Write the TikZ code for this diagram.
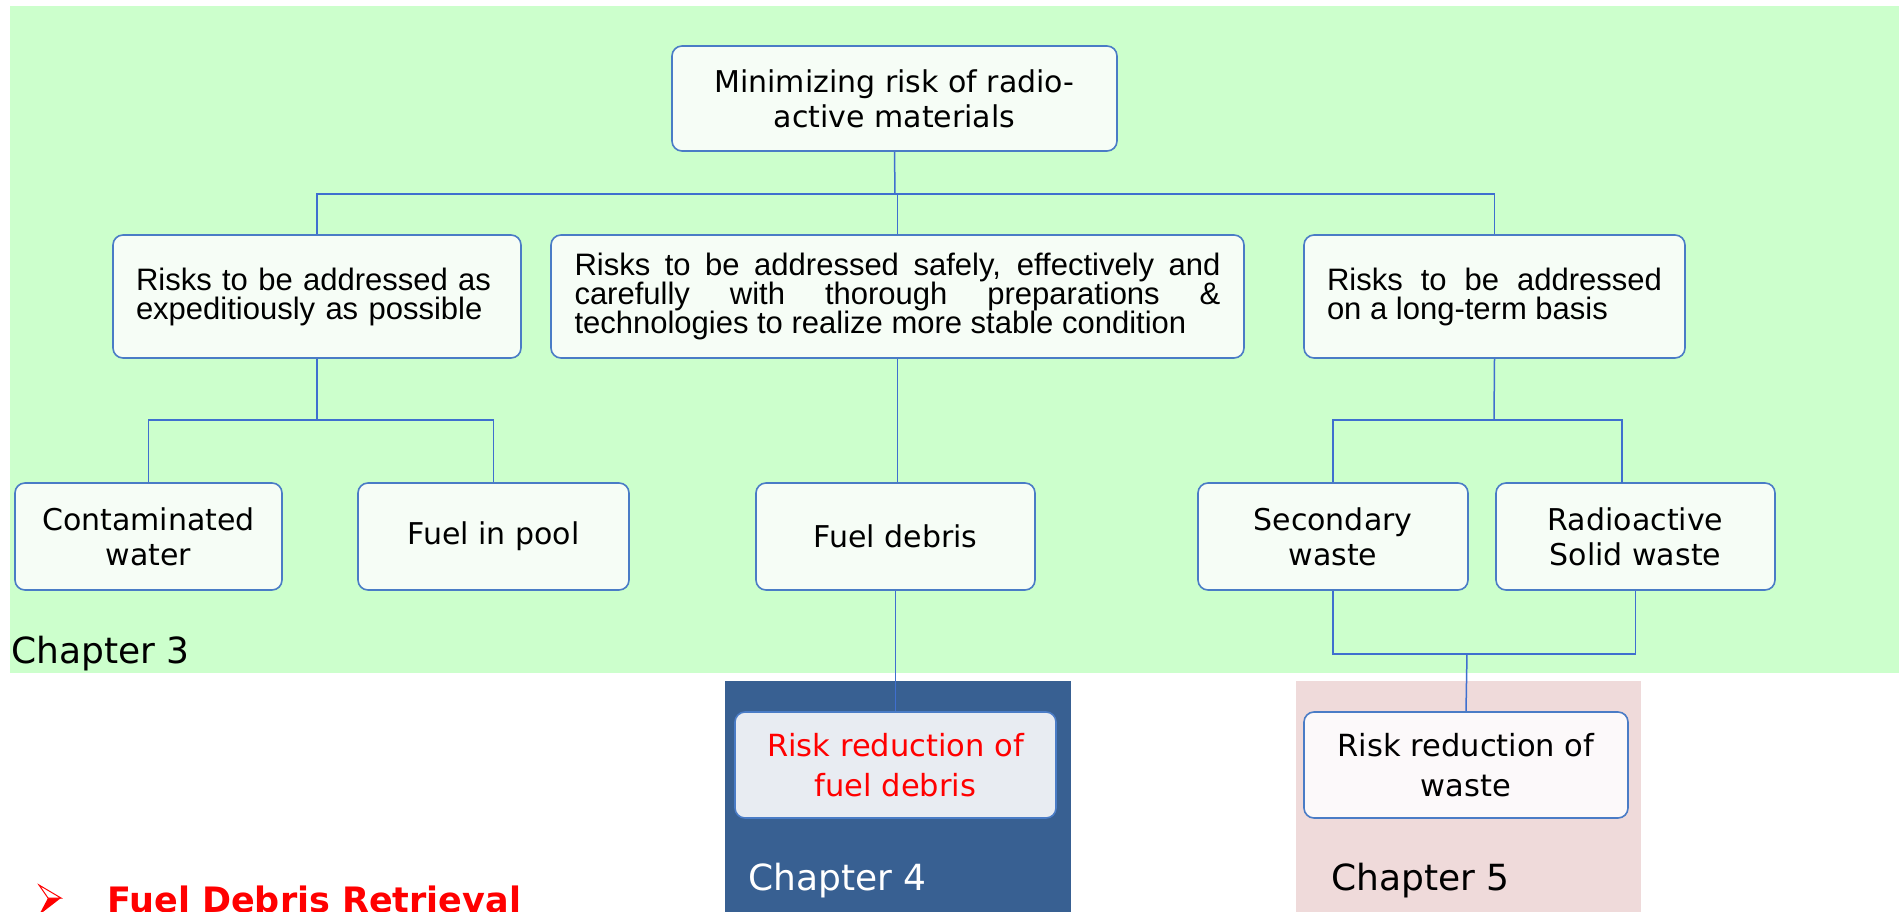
\documentclass[tikz,border=0pt]{standalone}
\usepackage{fontspec}
\setmainfont{DejaVu Sans}
\newfontfamily\arialf{Liberation Sans}
\usetikzlibrary{calc}
\definecolor{bggreen}{RGB}{204,255,204}
\definecolor{boxfill}{RGB}{246,253,246}
\definecolor{boxline}{RGB}{74,124,198}
\definecolor{conn}{RGB}{63,111,207}
\definecolor{chfour}{RGB}{56,96,146}
\definecolor{chfive}{RGB}{239,218,218}
\definecolor{rfdfill}{RGB}{232,236,242}
\definecolor{rwfill}{RGB}{252,249,250}
\tikzset{
  rbox/.style={draw=boxline, line width=1.6pt, rounded corners=10pt, fill=boxfill, inner sep=0pt, align=center},
  dvtext/.style={font=\fontsize{30}{35}\selectfont},
  artext/.style={font=\arialf\fontsize{31}{29}\selectfont},
  link/.style={draw=conn, line width=1.5pt},
  chap/.style={font=\fontsize{36}{40}\selectfont, anchor=base west, inner sep=0pt}
}
\begin{document}
\begin{tikzpicture}[x=1pt,y=-1pt]
\useasboundingbox (0,0) rectangle (1899,912);
\fill[white] (0,0) rectangle (1899,912);
% backgrounds
\fill[bggreen] (10,6) rectangle (1899,673);
\fill[chfour] (725,681) rectangle (1071,912);
\fill[chfive] (1296,681) rectangle (1641,912);

% level 1
\node[rbox, dvtext, minimum width=445pt, minimum height=105pt] (top) at (894.5,98.5)
  {Minimizing risk of radio-\\active materials};

% level 2
\node[rbox, artext, minimum width=408pt, minimum height=123pt, text width=362pt, align=left] (A) at (317,296.5)
  {Risks to be addressed as\\expeditiously as possible};
\node[rbox, artext, minimum width=693pt, minimum height=123pt, text width=646pt, align=justify] (B) at (897.5,296.5)
  {Risks to be addressed safely, effectively and\linebreak carefully with thorough preparations \&\linebreak technologies to realize more stable condition};
\node[rbox, artext, minimum width=381pt, minimum height=123pt, text width=335pt, align=justify] (C) at (1494.5,296.5)
  {Risks to be addressed\linebreak on a long-term basis};

% level 3
\node[rbox, dvtext, minimum width=267pt, minimum height=107pt] (cw) at (148.5,536.5) {Contaminated\\water};
\node[rbox, dvtext, minimum width=271pt, minimum height=107pt] (fp) at (493.5,536.5) {Fuel in pool};
\node[rbox, dvtext, minimum width=279pt, minimum height=107pt] (fd) at (895.5,536.5) {Fuel debris};
\node[rbox, dvtext, minimum width=270pt, minimum height=107pt] (sw) at (1333,536.5) {Secondary\\waste};
\node[rbox, dvtext, minimum width=279pt, minimum height=107pt] (rw) at (1635.5,536.5) {Radioactive\\Solid waste};

% level 4
\node[rbox, font=\fontsize{30.5}{40}\selectfont, fill=rfdfill, text=red, minimum width=321pt, minimum height=106pt] (rfd) at (895.5,765) {Risk reduction of\\fuel debris};
\node[rbox, font=\fontsize{30.5}{40}\selectfont, fill=rwfill, minimum width=324pt, minimum height=106pt] (rwaste) at (1466,765) {Risk reduction of\\waste};

% junctions
\coordinate (j1) at (895,194);
\coordinate (j2) at (317,420);
\coordinate (j3) at (1494,420);
\coordinate (rwin) at (1622,483);
\coordinate (j4) at (1467,654);

% connectors
\draw[link] (top.south) -- (j1);
\draw[link] (A.north) |- (j1) -| (C.north);
\draw[link] (B.north) -- (B.north |- j1);
\draw[link] (A.south) -- (j2);
\draw[link] (cw.north) |- (j2) -| (fp.north);
\draw[link] (B.south) -- (B.south |- fd.north);
\draw[link] (C.south) -- (j3);
\draw[link] (sw.north) |- (j3) -| (rwin);
\draw[link] (fd.south) -- (rfd.north);
\draw[link] (sw.south) |- (j4);
\draw[link] (rw.south) |- (j4);
\draw[link] (j4) -- (rwaste.north);

% chapter labels
\node[chap] (ch3) at (11,663) {Chapter 3};
\node[chap, text=white] (ch4) at (748,890) {Chapter 4};
\node[chap] (ch5) at (1331,890) {Chapter 5};

% bullet
\fill[red] (48,898) -- (61,898) -- (39,915) -- cycle;
\draw[red, line width=1pt, fill=white] (39,885) -- (61,898) -- (48,898) -- cycle;
\node[font=\bfseries\fontsize{35}{40}\selectfont, text=red, anchor=base west, inner sep=0pt] (fdr) at (107,912) {Fuel Debris Retrieval};
\end{tikzpicture}
\end{document}
